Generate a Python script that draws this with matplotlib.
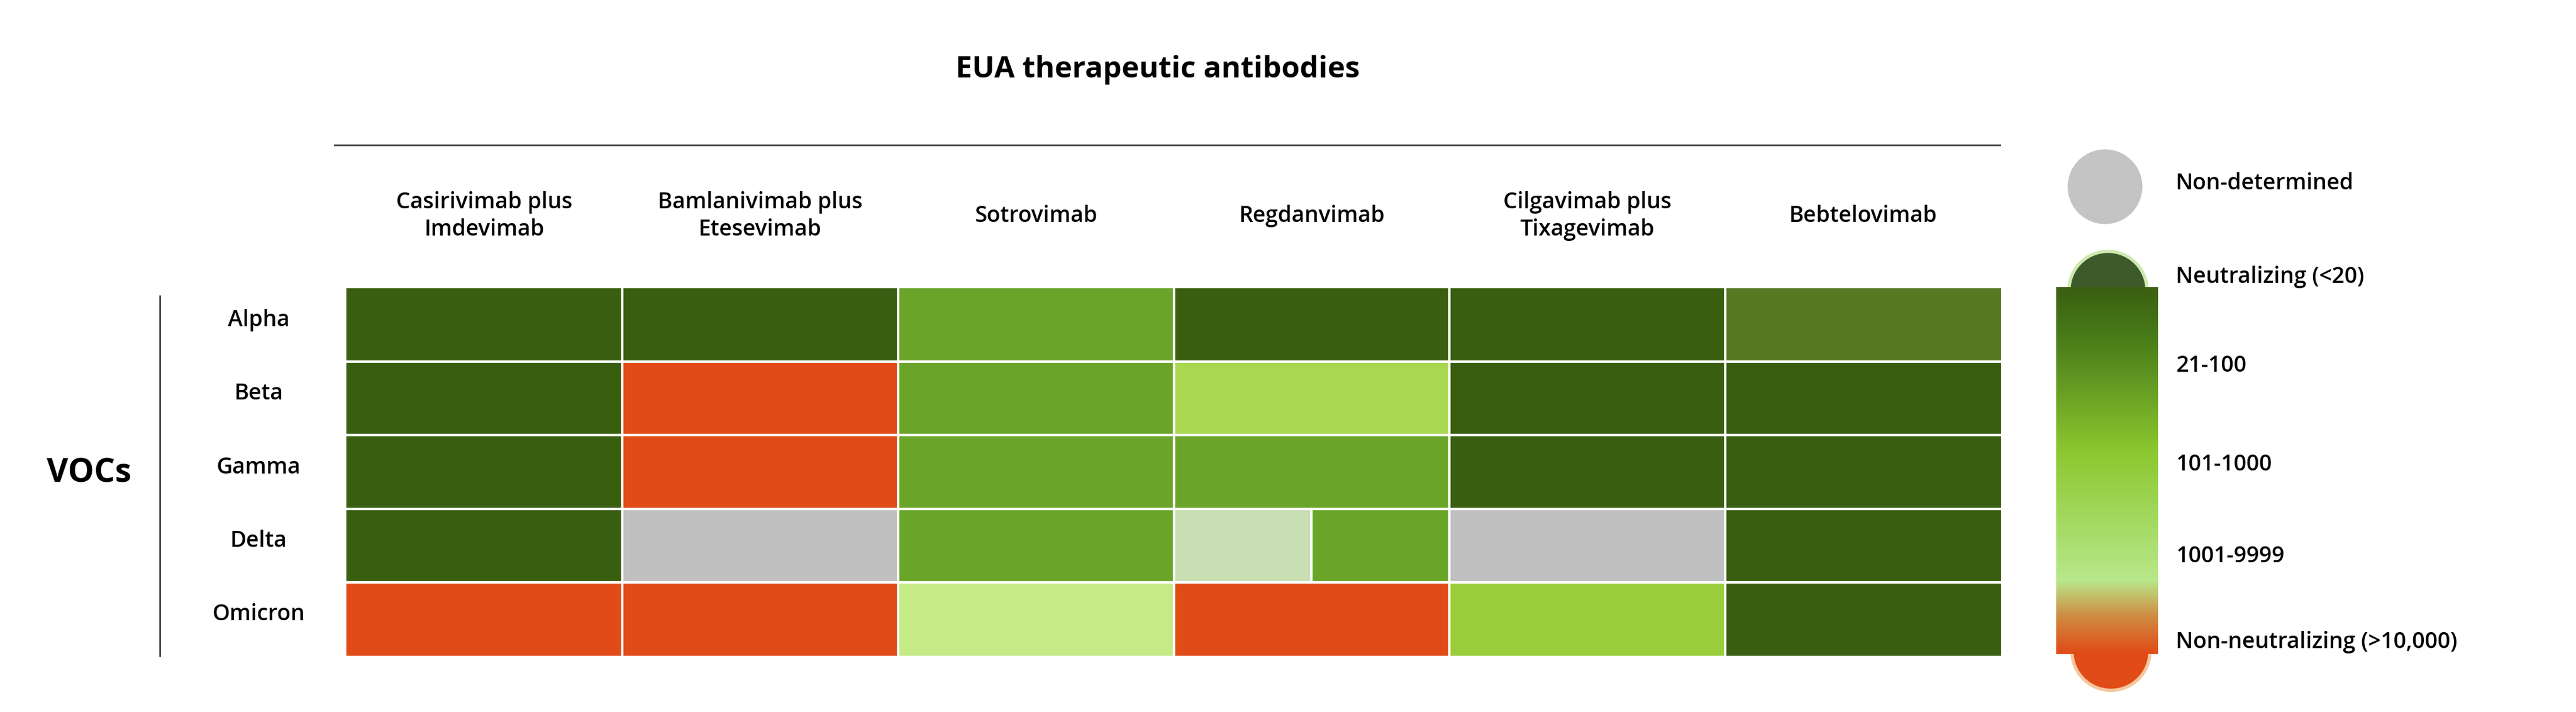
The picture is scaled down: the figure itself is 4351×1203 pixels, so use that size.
import matplotlib.pyplot as plt
import numpy as np
from matplotlib.colors import ListedColormap, LinearSegmentedColormap

W, H = 4351, 1203
font = "Open Sans"

antibodies = ["Casirivimab plus\nImdevimab", "Bamlanivimab plus\nEtesevimab", "Sotrovimab",
              "Regdanvimab", "Cilgavimab plus\nTixagevimab", "Bebtelovimab"]
variants = ["Alpha", "Beta", "Gamma", "Delta", "Omicron"]

# colour classes
class_colors = ["#3a5e10", "#6aa52a", "#a8d850", "#c6ea88", "#e04b17",
                "#c0c0c0", "#557a22", "#c9deb2", "#9acd3a"]
# each antibody split into two halves (Regdanvimab delta is split)
cells = [
    [0, 0, 0, 0, 1, 1, 0, 0, 0, 0, 6, 6],
    [0, 0, 4, 4, 1, 1, 2, 2, 0, 0, 0, 0],
    [0, 0, 4, 4, 1, 1, 1, 1, 0, 0, 0, 0],
    [0, 0, 5, 5, 1, 1, 7, 1, 5, 5, 0, 0],
    [4, 4, 4, 4, 3, 3, 4, 4, 8, 8, 0, 0],
]
legend_labels = ["Neutralizing (<20)", "21-100", "101-1000", "1001-9999", "Non-neutralizing (>10,000)"]

fig = plt.figure(figsize=(W / 100, H / 100), dpi=100)
bg = fig.add_axes([0, 0, 1, 1])
bg.set_xlim(0, W)
bg.set_ylim(H, 0)
bg.axis("off")

# heatmap
x0, x1, y0, y1 = 585, 3380, 487, 1108
ax = fig.add_axes([x0 / W, 1 - y1 / H, (x1 - x0) / W, (y1 - y0) / H])
data = np.array(cells)
ax.pcolormesh(data, cmap=ListedColormap(class_colors), vmin=-0.5, vmax=len(class_colors) - 0.5)
ax.set_xlim(0, 12)
ax.set_ylim(5, 0)
ax.axis("off")
for i in range(1, 5):
    ax.axhline(i, color="white", lw=3)
for j in range(1, 6):
    ax.axvline(2 * j, color="white", lw=3)
ax.plot([7, 7], [3, 4], color="white", lw=3)

col_w = (x1 - x0) / len(antibodies)
row_h = (y1 - y0) / len(variants)
for j, name in enumerate(antibodies):
    bg.text(x0 + (j + 0.5) * col_w, 365, name, ha="center", va="center", fontsize=27,
            fontweight="semibold", family=font, linespacing=1.3)
for i, name in enumerate(variants):
    bg.text(437, y0 + (i + 0.5) * row_h - 8, name, ha="center", va="center", fontsize=27,
            fontweight="semibold", family=font)

bg.text(150, 800, "VOCs", ha="center", va="center", fontsize=40, fontweight="bold", family=font)
bg.text(1955, 118, "EUA therapeutic antibodies", ha="center", va="center", fontsize=36,
        fontweight="bold", family=font)
bg.plot([565, 3378], [245, 245], color="#404040", lw=2)
bg.plot([270, 270], [500, 1108], color="#404040", lw=2)

# colour scale legend
cax = fig.add_axes([3473 / W, 1 - 1105 / H, (3645 - 3473) / W, (1105 - 485) / H])
grad = LinearSegmentedColormap.from_list("g", [(0, "#e04b17"), (0.1, "#d08a40"), (0.2, "#b8e88a"),
                                               (0.55, "#8cc830"), (0.85, "#4a7f1a"), (1, "#3a5e10")])
cax.imshow(np.linspace(0, 1, 256)[:, None], cmap=grad, aspect="auto", origin="lower")
cax.axis("off")

bg.scatter([3555], [315], s=9000, color="#c4c4c4", edgecolor="white", lw=4, zorder=5)
bg.scatter([3560], [490], s=9000, color="#3c5a2a", edgecolor="#cfe8b0", lw=4, zorder=5)
bg.scatter([3565], [1100], s=9000, color="#e04b17", edgecolor="#f5c8a0", lw=4, zorder=5)

bg.text(3675, 310, "Non-determined", ha="left", va="center", fontsize=27, fontweight="semibold", family=font)
label_y = [468, 618, 785, 940, 1085]
for lab, yy in zip(legend_labels, label_y):
    bg.text(3675, yy, lab, ha="left", va="center", fontsize=27, fontweight="semibold", family=font)

fig.savefig("out.png", dpi=100, facecolor="white")
